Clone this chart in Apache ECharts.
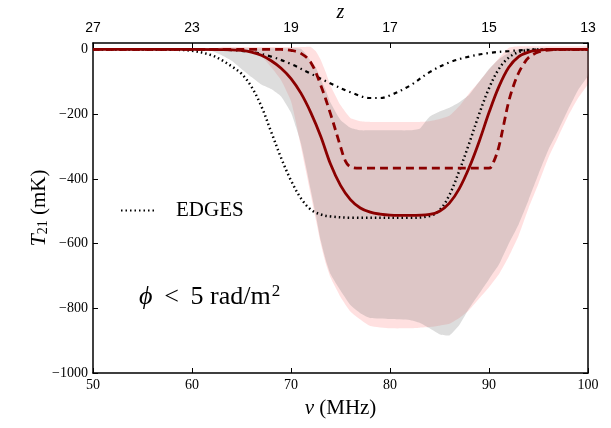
<!DOCTYPE html>
<html>
<head>
<meta charset="utf-8">
<script src="https://cdn.jsdelivr.net/npm/echarts@6/dist/echarts.min.js"></script>
<style>
html,body{margin:0;padding:0;background:#fff;}
#chart{width:611px;height:428px;}
</style>
</head>
<body>
<div id="chart"></div>
<script>
// x ticks (MHz) and matching redshift labels on the top axis
const nuTicks = [50, 60, 70, 80, 90, 100];
const zLabels = ['27', '23', '19', '17', '15', '13'];

// solid dark-red curve
const solidNu = [50,60,64,65,66,67,68,69,70,71,72,73,74,75,76,77,78,79,80,82,84,85,86,87,88,89,90,91,92,93,94,95,96,100];
const solidT  = [0,0,-1,-3,-8,-18,-35,-58,-90,-135,-195,-268,-355,-420,-464,-490,-503,-509,-512,-513,-510,-500,-475,-430,-365,-285,-195,-115,-55,-22,-8,-3,0,0];

// dashed dark-red curve
const dashedNu = [50,69,70,71,72,73,74,75,75.5,76,77,90,90.5,91,91.5,92,92.5,93,93.5,94,95,96,97,100];
const dashedT  = [0,0,-3,-12,-40,-110,-200,-300,-345,-363,-367,-367,-345,-300,-230,-160,-110,-72,-45,-25,-8,-2,0,0];

// dash-dot black curve
const dashdotNu = [50,62,64,66,68,70,72,74,76,78,79,80,82,84,86,88,90,92,94,96,100];
const dashdotT  = [0,0,-2,-8,-22,-45,-75,-105,-132,-150,-150,-142,-112,-70,-40,-22,-11,-5,-1,0,0];

// EDGES (dotted black)
const edgesNu = [50,58,60,62,63,64,65,66,67,68,69,70,71,72,73,74,76,82,84,85,86,87,88,89,90,91,92,93,94,95,100];
const edgesT  = [0,-1,-4,-18,-33,-52,-75,-115,-175,-255,-335,-405,-460,-495,-510,-516,-520,-520,-515,-497,-450,-375,-290,-200,-120,-60,-25,-8,-2,0,0];

// shaded bands
const bandNu    = [50,61,62,63,64,65,66,67,68,69,70,70.5,71,71.5,72,72.5,73,73.5,74,75,76,77,78,80,82,83,84,85,86,87,88,89,90,91,92,93,94,95,96,97,98,99,100];
const greyUpper = [0,0,4,4,4,4,4,4,4,4,4,4,2,-14,-35,-55,-92,-125,-165,-218,-242,-250,-250,-250,-250,-245,-208,-192,-180,-163,-140,-100,-60,-30,-10,0,4,4,4,4,4,4,4];
const greyLower = [0,0,-5,-18,-35,-60,-85,-108,-122,-145,-195,-240,-290,-360,-435,-510,-590,-650,-695,-745,-790,-815,-830,-833,-836,-845,-862,-880,-884,-852,-800,-755,-710,-665,-600,-540,-465,-385,-310,-250,-185,-125,-80];
const pinkUpper = [0,0,0,8,8,8,8,8,8,8,8,8,8,8,8,-5,-32,-70,-112,-172,-212,-222,-224,-224,-224,-224,-222,-215,-205,-175,-135,-100,-62,-27,5,10,10,10,10,10,10,10,10];
const pinkLower = [0,0,0,0,0,0,-2,-20,-55,-95,-160,-225,-300,-375,-450,-525,-600,-660,-705,-765,-810,-835,-855,-862,-862,-860,-858,-854,-848,-830,-805,-770,-735,-695,-640,-575,-490,-415,-335,-270,-205,-150,-105];

const chart = echarts.init(document.getElementById('chart'), null, {renderer: 'canvas'});
const SERIF = '"Liberation Serif", "DejaVu Serif", serif';
const SANS = '"Liberation Sans", "DejaVu Sans", sans-serif';

function pairs(xs, ys) { return xs.map((x, i) => [x, ys[i]]); }

function band(name, upper, lower, color, z) {
  return {
    name: name,
    type: 'custom',
    silent: true,
    z: z,
    renderItem: function (params, api) {
      if (params.dataIndex !== 0) return;
      const pts = [];
      for (let i = 0; i < bandNu.length; i++) pts.push(api.coord([bandNu[i], upper[i]]));
      for (let i = bandNu.length - 1; i >= 0; i--) pts.push(api.coord([bandNu[i], lower[i]]));
      return { type: 'polygon', shape: { points: pts, smooth: 0.15 }, style: { fill: color, stroke: null } };
    },
    encode: { x: 0, y: [1, 2] },
    data: bandNu.map((x, i) => [x, upper[i], lower[i]])
  };
}

function fmtY(v) {
  if (v % 200 !== 0) return '';
  return v < 0 ? '\u2212' + (-v) : String(v);
}

const option = {
  animation: false,
  backgroundColor: '#ffffff',
  grid: { left: 93, right: 23, top: 43, bottom: 55, containLabel: false, outerBoundsMode: 'none' },
  legend: {
    data: ['EDGES'],
    left: 115, top: 195,
    itemWidth: 36, itemHeight: 12, itemGap: 10,
    itemStyle: { opacity: 0, color: 'rgba(0,0,0,0)', borderWidth: 0 },
    textStyle: { fontFamily: SERIF, fontSize: 21, color: '#000', padding: [0, 0, 0, 14] },
    selectedMode: false
  },
  xAxis: [
    {
      type: 'value', position: 'bottom', min: 50, max: 100, interval: 10,
      name: '{i|\u03bd} (MHz)', nameLocation: 'middle', nameGap: 25, nameMoveOverlap: false,
      nameTextStyle: { fontFamily: SERIF, fontSize: 21, color: '#000',
        rich: { i: { fontFamily: SERIF, fontStyle: 'italic', fontSize: 21, color: '#000' } } },
      axisLine: { show: true, onZero: false, lineStyle: { color: '#000', width: 1.5 } },
      axisTick: { show: true, inside: true, length: 5, lineStyle: { color: '#000', width: 1 } },
      axisLabel: { fontFamily: SERIF, fontSize: 14, color: '#000', margin: 5 },
      splitLine: { show: false }
    },
    {
      type: 'value', position: 'top', min: 50, max: 100, interval: 10,
      name: 'z', nameLocation: 'middle', nameGap: 20, nameMoveOverlap: false,
      nameTextStyle: { fontFamily: SERIF, fontStyle: 'italic', fontSize: 20, color: '#000' },
      axisLine: { show: true, onZero: false, lineStyle: { color: '#000', width: 1.5 } },
      axisTick: { show: true, inside: true, length: 5, lineStyle: { color: '#000', width: 1 } },
      axisLabel: { fontFamily: SANS, fontSize: 14, color: '#000', margin: 8,
        formatter: function (v) { const k = nuTicks.indexOf(v); return k >= 0 ? zLabels[k] : ''; } },
      splitLine: { show: false }
    }
  ],
  yAxis: [
    {
      type: 'value', position: 'left', min: -1000, max: 20, interval: 200,
      name: '{i|T}{s|21} (mK)', nameLocation: 'middle', nameGap: 43, nameRotate: 90, nameMoveOverlap: false,
      nameTextStyle: { fontFamily: SERIF, fontSize: 21, color: '#000',
        rich: {
          i: { fontFamily: SERIF, fontStyle: 'italic', fontSize: 22, color: '#000' },
          s: { fontFamily: SERIF, fontSize: 14, color: '#000', verticalAlign: 'bottom', padding: [8, 0, 0, 0] }
        } },
      axisLine: { show: true, onZero: false, lineStyle: { color: '#000', width: 1.5 } },
      axisTick: { show: true, inside: true, length: 5, lineStyle: { color: '#000', width: 1 } },
      axisLabel: { fontFamily: SERIF, fontSize: 14, color: '#000', margin: 5, formatter: fmtY, showMaxLabel: false },
      splitLine: { show: false }
    },
    {
      type: 'value', position: 'right', min: -1000, max: 20, interval: 200,
      axisLine: { show: true, onZero: false, lineStyle: { color: '#000', width: 1.5 } },
      axisTick: { show: true, inside: true, length: 5, lineStyle: { color: '#000', width: 1 } },
      axisLabel: { show: false },
      splitLine: { show: false }
    }
  ],
  graphic: [
    {
      type: 'text', left: 139, top: 283, z: 100,
      style: {
        text: '{i|\u03d5}\u2009 < \u20095 rad/m{s|2}',
        font: '26px ' + SERIF, fill: '#000',
        rich: {
          i: { fontFamily: SERIF, fontStyle: 'italic', fontSize: 26, fill: '#000' },
          s: { fontFamily: SERIF, fontSize: 17, fill: '#000', verticalAlign: 'top', padding: [0, 0, 11, 1] }
        }
      }
    }
  ],
  series: [
    band('pink', pinkUpper, pinkLower, 'rgba(255,0,0,0.12)', 1),
    band('grey', greyUpper, greyLower, 'rgba(128,128,128,0.27)', 1),
    {
      name: 'EDGES', type: 'line', data: pairs(edgesNu, edgesT), smooth: 0.35,
      symbol: 'none', z: 3,
      lineStyle: { color: '#000', width: 2.5, type: [1.5, 3] }, itemStyle: { color: '#000' }
    },
    {
      name: 'dashdot', type: 'line', data: pairs(dashdotNu, dashdotT), smooth: 0.35,
      symbol: 'none', z: 3,
      lineStyle: { color: '#000', width: 2.2, type: [4, 4, 1.5, 4] }
    },
    {
      name: 'dashed', type: 'line', data: pairs(dashedNu, dashedT), smooth: 0.35,
      symbol: 'none', z: 4,
      lineStyle: { color: '#8b0000', width: 2.8, type: [8, 5] }
    },
    {
      name: 'solid', type: 'line', data: pairs(solidNu, solidT), smooth: 0.35,
      symbol: 'none', z: 4,
      lineStyle: { color: '#8b0000', width: 2.8 }
    }
  ]
};
chart.setOption(option);
</script>
</body>
</html>
